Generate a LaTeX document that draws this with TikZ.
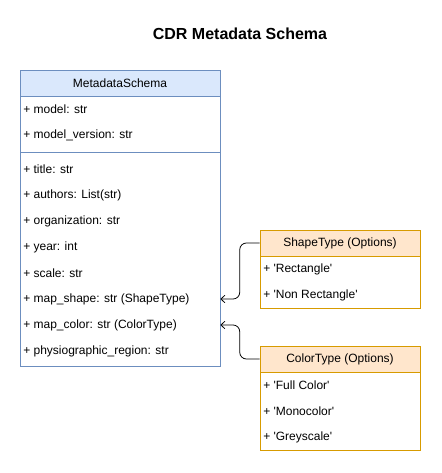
\documentclass[tikz,border=0pt]{standalone}
\usepackage{fontspec}
\setmainfont{Liberation Sans}
\usepackage{xcolor}
\usetikzlibrary{positioning, arrows.meta, calc}
\definecolor{hblue}{HTML}{DAE8FC}
\definecolor{lblue}{HTML}{6C8EBF}
\definecolor{horange}{HTML}{FFE6CC}
\definecolor{lorange}{HTML}{D79B00}
\newcommand{\q}[1]{\textquotesingle#1\textquotesingle}

\begin{document}
\begin{tikzpicture}[x=0.75pt, y=-0.75pt,
        every node/.style={font=\fontsize{9}{11}\selectfont},
        head/.style={draw, rectangle, minimum height=19.5pt, inner sep=0pt},
        sect/.style={draw, rectangle, inner sep=0pt},
        row/.style={anchor=west, inner sep=0pt},
        link/.style={-{Straight Barb[length=3pt, width=5.5pt]}, semithick, rounded corners=5pt}]
      \useasboundingbox (0,0) rectangle (441,473);

      \node[font=\fontsize{12}{14}\selectfont\bfseries] (title) at (240,34) {CDR Metadata Schema};

      % main class
      \node[sect, draw=lblue, minimum width=150pt, minimum height=42pt] (idsec) at (120,124) {};
      \node[sect, draw=lblue, minimum width=150pt, minimum height=160.5pt] (body) at (120,259) {};
      \node[head, fill=hblue, draw=lblue, minimum width=150pt] (meta) at (120,83) {MetadataSchema};
      \node[row] (model) at (23,109) {+ model: str};
      \node[row] (modelver) at (23,135) {+ model\_version: str};
      \node[row] (ttl) at (23,169) {+ title: str};
      \node[row] (authors) at (23,195) {+ authors: List(str)};
      \node[row] (org) at (23,221) {+ organization: str};
      \node[row] (year) at (23,247) {+ year: int};
      \node[row] (scale) at (23,273) {+ scale: str};
      \node[row] (mapshape) at (23,299) {+ map\_shape: str (ShapeType)};
      \node[row] (mapcolor) at (23,325) {+ map\_color: str (ColorType)};
      \node[row] (region) at (23,351) {+ physiographic\_region: str};

      % option classes
      \node[sect, draw=lorange, minimum width=120pt, minimum height=39pt] (shapebody) at (340,282) {};
      \node[head, fill=horange, draw=lorange, minimum width=120pt] (shapehead) at (340,243) {ShapeType (Options)};
      \node[row] (rect) at (263,269) {+ \q{Rectangle}};
      \node[row] (nonrect) at (263,295) {+ \q{Non Rectangle}};

      \node[sect, draw=lorange, minimum width=120pt, minimum height=58.5pt] (colorbody) at (340,411) {};
      \node[head, fill=horange, draw=lorange, minimum width=120pt] (colorhead) at (340,359) {ColorType (Options)};
      \node[row] (full) at (263,385) {+ \q{Full Color}};
      \node[row] (mono) at (263,411) {+ \q{Monocolor}};
      \node[row] (grey) at (263,437) {+ \q{Greyscale}};

      \draw[link] (shapehead.west) -- ++(-20,0) |- (mapshape -| body.east);
      \draw[link] (colorhead.west) -- ++(-20,0) |- (mapcolor -| body.east);
    \end{tikzpicture}
\end{document}
